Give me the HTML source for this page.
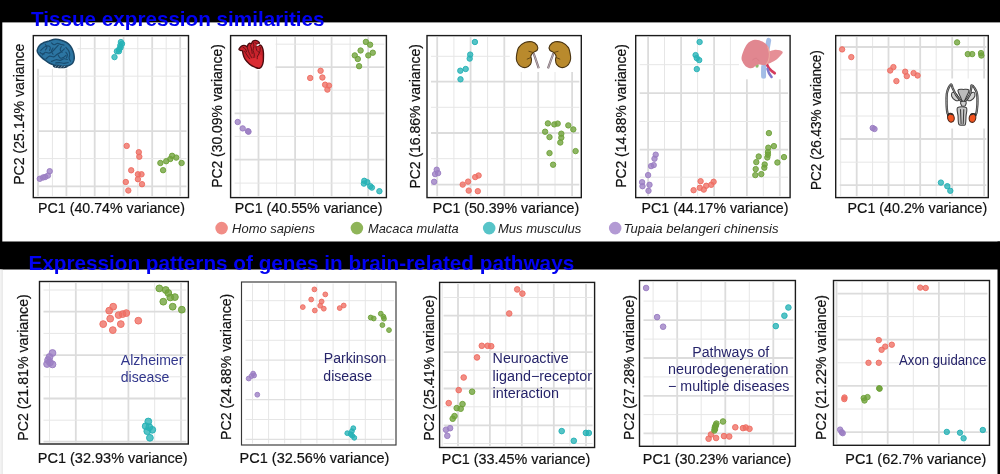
<!DOCTYPE html>
<html lang="en"><head><meta charset="utf-8"><title>Tissue expression similarities</title>
<style>
html,body{margin:0;padding:0;background:#fff;}
body{width:1000px;height:474px;overflow:hidden;position:relative;font-family:"Liberation Sans",Arial,sans-serif;}
svg{position:absolute;left:0;top:0;display:block;}
text{font-family:"Liberation Sans",Arial,sans-serif;}
.ax{font-size:15.2px;fill:#111;stroke:#111;stroke-width:0.2;}
.ttl{font-size:21px;font-weight:bold;fill:#0202f2;}
.lg{font-size:13px;font-style:italic;fill:#222;}
.an{font-size:14px;}
.gM{stroke:#dcdcdc;stroke-width:1.8;}
.gm{stroke:#e6e6e6;stroke-width:1;}
.gt{stroke:#e0e0e0;stroke-width:1.2;}
.fr{fill:none;stroke:#1c1c1c;stroke-width:1.4;}
</style></head><body>
<svg width="1000" height="474" viewBox="0 0 1000 474">
<rect x="0" y="0" width="1000" height="474" fill="#fff"/>
<rect x="0" y="0" width="1000" height="22.4" fill="#000"/>
<rect x="0" y="0" width="2.3" height="242" fill="#000"/>
<rect x="0" y="241.5" width="1000" height="28" fill="#000"/>
<rect x="997.5" y="241.5" width="2.5" height="232.5" fill="#000"/>
<rect x="0" y="269.5" width="1.6" height="204.5" fill="#f3f3f3"/>
<rect x="1.6" y="269.5" width="1" height="204.5" fill="#dedede"/>

<g>
<rect x="33.3" y="35.6" width="155.2" height="162" fill="#fff"/>
<line class="gM" x1="38" y1="37.1" x2="38" y2="196.1"/>
<line class="gm" x1="52.4" y1="37.1" x2="52.4" y2="196.1"/>
<line class="gM" x1="66.4" y1="37.1" x2="66.4" y2="196.1"/>
<line class="gm" x1="80.4" y1="37.1" x2="80.4" y2="196.1"/>
<line class="gM" x1="94.7" y1="37.1" x2="94.7" y2="196.1"/>
<line class="gm" x1="109.2" y1="37.1" x2="109.2" y2="196.1"/>
<line class="gM" x1="123.6" y1="37.1" x2="123.6" y2="196.1"/>
<line class="gm" x1="137.8" y1="37.1" x2="137.8" y2="196.1"/>
<line class="gM" x1="152.2" y1="37.1" x2="152.2" y2="196.1"/>
<line class="gm" x1="166.2" y1="37.1" x2="166.2" y2="196.1"/>
<line class="gM" x1="180.2" y1="37.1" x2="180.2" y2="196.1"/>
<line class="gm" x1="37.3" y1="48.7" x2="186.5" y2="48.7"/>
<line class="gm" x1="37.3" y1="76.2" x2="186.5" y2="76.2"/>
<line class="gm" x1="37.3" y1="103.7" x2="186.5" y2="103.7"/>
<line class="gM" x1="37.3" y1="131.1" x2="186.5" y2="131.1"/>
<line class="gm" x1="37.3" y1="158.6" x2="186.5" y2="158.6"/>
<line class="gM" x1="37.3" y1="186.4" x2="186.5" y2="186.4"/>
<rect x="34" y="36.3" width="43.5" height="32.5" fill="#fff"/>
<g><path d="M53 64.7C53.5 64.2 55.1 64.3 56.8 64.2C58.4 64.2 61.1 64.4 62.9 64.5C64.6 64.7 66.7 64.7 67.4 65.2C68.1 65.6 67.9 66.9 67.1 67.4C66.3 67.9 64.6 68.1 62.9 68.2C61.1 68.3 58.3 68.2 56.8 68C55.2 67.9 54.2 67.7 53.6 67.1C53 66.6 52.5 65.2 53 64.7Z" fill="#1b3c55"/><path d="M37.2 50.4C37.4 49 38.6 46.6 39.7 45.3C40.8 43.9 42.3 43.3 43.9 42.5C45.5 41.8 47.3 41.4 49.2 40.9C51.1 40.3 53.2 39.4 55.3 39.3C57.3 39.2 59.4 39.6 61.3 40.2C63.2 40.7 65.1 41.6 66.6 42.5C68.2 43.5 69.4 44.6 70.4 46C71.5 47.5 72.5 49.4 73.1 51.2C73.7 52.9 74.1 55 74.2 56.5C74.4 58 74.2 59.2 73.9 60.4C73.5 61.7 72.9 62.9 72 63.8C71 64.7 69.6 65.4 68.2 65.8C66.8 66.2 65.1 66.2 63.6 66.2C62.1 66.2 60.7 65.8 59.1 65.6C57.4 65.4 55.4 65.3 53.7 64.9C52.1 64.4 50.6 63.8 49.2 63C47.8 62.3 46.7 61.4 45.4 60.4C44.1 59.5 42.7 58.5 41.6 57.4C40.5 56.3 39.3 55.2 38.6 54.1C37.8 52.9 37 51.9 37.2 50.4Z" fill="#2C75A2" stroke="#1A4868" stroke-width="1.5" stroke-linejoin="round"/><g fill="none" stroke="#194C6F" stroke-width="1.15" stroke-linecap="round"><path d="M40.8 50.4C41.3 49.9 42.7 48.1 43.9 47.4C45 46.6 46.6 45.9 47.7 45.9C48.7 45.9 50 46.6 50.3 47.4C50.6 48.1 49.7 49.9 49.6 50.4"/><path d="M42.4 55C42.9 54.5 44.3 52.6 45.4 52.3C46.5 52 48 53.3 49.2 53.1C50.4 52.9 51.5 52 52.6 51.2C53.7 50.4 54.7 49.2 55.6 48.1C56.6 47.1 57.9 45.6 58.3 45.1"/><path d="M46.1 58.8C46.7 58.3 48.3 56.4 49.6 56.1C50.8 55.8 52.5 57.1 53.7 56.9C54.9 56.6 55.6 55.4 56.8 54.6C57.9 53.8 59.3 53.3 60.6 52.3C61.8 51.4 63.7 49.5 64.4 48.9"/><path d="M51.5 42.8C51.9 43.2 53.1 44.7 54.1 44.7C55.1 44.8 56.5 43.3 57.5 43.2C58.6 43.2 59.5 44 60.6 44.4C61.7 44.7 63.4 45 64 45.1"/><path d="M65.9 47.4C66.3 47.9 67.9 49.3 68.5 50.4C69.2 51.6 69.6 53 69.7 54.2C69.8 55.5 69 56.9 69.1 58C69.2 59.2 70.2 60.6 70.4 61.1"/><path d="M51.5 61.4C52.2 61.1 54.6 59.9 56 59.7C57.5 59.5 58.9 60.6 60.2 60.4C61.5 60.3 62.8 58.9 64 58.8C65.2 58.6 66.8 59.4 67.4 59.5"/><path d="M45.4 44.4C45.6 44.9 46.9 46.4 46.9 47.4C46.9 48.3 45.6 49.6 45.4 50"/><path d="M58.3 55.4C58.6 55.8 59.4 57.6 60.2 58C61 58.4 62.3 58.1 63.2 57.6C64.2 57.2 65.4 55.7 65.9 55.4"/><path d="M53 48.1C52.7 48.7 51.5 50.2 51.5 51.2C51.5 52.2 52.7 53.7 53 54.2"/><path d="M61.3 46.6C61.1 47.1 60.1 48.7 60.2 49.7C60.3 50.6 61.8 51.9 62.1 52.3"/><path d="M55.6 63C56.3 62.9 58.4 62.5 59.8 62.6C61.2 62.6 62.6 63.3 64 63.3C65.4 63.3 67.5 62.7 68.2 62.6"/><path d="M40.1 52.3C40.3 52.6 40.9 53.6 41.6 53.8C42.3 54.1 43.8 53.8 44.3 53.8"/><path d="M65.9 52.3C66.1 52.7 67.3 53.7 67.4 54.6C67.5 55.5 66.8 57.1 66.6 57.6"/></g><g fill="none" stroke="#cfdbe4" stroke-width="0.55"><path d="M54.6 67.2l1.8 -1.4M57.4 67.6l2 -1.6M60.4 67.6l2 -1.5M63.4 67.3l1.8 -1.3"/></g></g>
<g fill="#EE6E63" fill-opacity="0.78" stroke="#EE6E63" stroke-opacity="0.95" stroke-width="1">
<circle cx="126.7" cy="145.9" r="2.7"/>
<circle cx="138.8" cy="152.2" r="2.7"/>
<circle cx="139.3" cy="156.7" r="2.7"/>
<circle cx="131.2" cy="170.3" r="2.7"/>
<circle cx="137.9" cy="174.3" r="2.7"/>
<circle cx="141.5" cy="174.3" r="2.7"/>
<circle cx="137.9" cy="179.2" r="2.7"/>
<circle cx="125.8" cy="182" r="2.7"/>
<circle cx="142" cy="184.2" r="2.7"/>
<circle cx="128.3" cy="190.5" r="2.7"/>
</g>
<g fill="#6FA23A" fill-opacity="0.78" stroke="#6FA23A" stroke-opacity="0.95" stroke-width="1">
<circle cx="160.4" cy="163" r="2.7"/>
<circle cx="166.2" cy="161.2" r="2.7"/>
<circle cx="170.3" cy="159" r="2.7"/>
<circle cx="172.1" cy="155.8" r="2.7"/>
<circle cx="176.2" cy="157.6" r="2.7"/>
<circle cx="181.6" cy="163" r="2.7"/>
<circle cx="163.1" cy="170.2" r="2.7"/>
</g>
<g fill="#9B7EC3" fill-opacity="0.78" stroke="#9B7EC3" stroke-opacity="0.95" stroke-width="1">
<circle cx="39.8" cy="178.8" r="2.7"/>
<circle cx="43" cy="177.5" r="2.7"/>
<circle cx="45.2" cy="177" r="2.7"/>
<circle cx="47.9" cy="175.6" r="2.7"/>
<circle cx="49.7" cy="171.2" r="2.7"/>
</g>
<g fill="#27B2B6" fill-opacity="0.78" stroke="#27B2B6" stroke-opacity="0.95" stroke-width="1">
<circle cx="120.9" cy="42.1" r="2.7"/>
<circle cx="122" cy="43.8" r="2.7"/>
<circle cx="120.3" cy="45.5" r="2.7"/>
<circle cx="120.6" cy="47.5" r="2.7"/>
<circle cx="119.3" cy="49.2" r="2.7"/>
<circle cx="116.9" cy="51.3" r="2.7"/>
<circle cx="118.9" cy="51.3" r="2.7"/>
<circle cx="114.5" cy="57.1" r="2.7"/>
</g>
<rect class="fr" x="33.3" y="35.6" width="155.2" height="162"/>
</g>
<g>
<rect x="230.6" y="35.6" width="155.8" height="162" fill="#fff"/>
<line class="gm" x1="240.1" y1="37.1" x2="240.1" y2="196.1"/>
<line class="gM" x1="258.5" y1="37.1" x2="258.5" y2="196.1"/>
<line class="gm" x1="276.6" y1="37.1" x2="276.6" y2="196.1"/>
<line class="gM" x1="295.1" y1="37.1" x2="295.1" y2="196.1"/>
<line class="gm" x1="313.4" y1="37.1" x2="313.4" y2="196.1"/>
<line class="gM" x1="331.6" y1="37.1" x2="331.6" y2="196.1"/>
<line class="gm" x1="350.1" y1="37.1" x2="350.1" y2="196.1"/>
<line class="gM" x1="368.2" y1="37.1" x2="368.2" y2="196.1"/>
<line class="gm" x1="234.6" y1="44.2" x2="384.4" y2="44.2"/>
<line class="gM" x1="234.6" y1="67.2" x2="384.4" y2="67.2"/>
<line class="gm" x1="234.6" y1="90.2" x2="384.4" y2="90.2"/>
<line class="gM" x1="234.6" y1="113.3" x2="384.4" y2="113.3"/>
<line class="gm" x1="234.6" y1="136.4" x2="384.4" y2="136.4"/>
<line class="gM" x1="234.6" y1="159.7" x2="384.4" y2="159.7"/>
<line class="gm" x1="234.6" y1="183.1" x2="384.4" y2="183.1"/>
<rect x="231.3" y="36.3" width="44.3" height="34" fill="#fff"/>
<g><path d="M238.9 49.5C238.9 49 239.9 47.6 240.5 47C241 46.4 241.8 45.9 242.5 45.6C243.2 45.4 244.7 45.4 245.4 45.6C246.1 45.7 246.6 46.9 247.1 46.8C247.5 46.6 247.7 45 248.1 44.5C248.5 44 249.3 43.3 249.8 43.2C250.3 43.1 250.9 44.2 251.3 43.9C251.7 43.6 252.1 41.8 252.7 41.3C253.3 40.8 254.5 40.4 255.3 40.4C256.1 40.4 257.4 40.8 258 41.2C258.6 41.6 259.5 42.5 259.5 43C259.5 43.5 258.6 44 258.1 44.4C257.7 44.7 256.4 45.3 256.5 45.6C256.5 45.8 257.9 46 258.4 45.9C259 45.8 259.8 44.9 260.3 45C260.8 45 261.4 45.7 261.8 46.3C262.2 46.9 262.6 48 262.9 49.1C263.1 50.2 263.4 51.8 263.5 53.6C263.5 55.4 263.5 59.2 263.3 61.1C263.1 62.9 262.5 64.9 261.9 66C261.4 67.1 260.4 68 259.4 68.3C258.5 68.5 257.1 68.1 255.6 67.5C254.2 66.9 251.2 65.5 249.6 64.2C248 63 246 60.7 245 59.2C244 57.6 243.3 55.1 243 53.8C242.6 52.6 242.8 51.4 242.5 50.9C242.2 50.4 241.4 50.8 240.8 50.6C240.3 50.4 239 50.1 238.9 49.5Z" fill="#C8232C" stroke="#4A0C0F" stroke-width="1.35" stroke-linejoin="round"/><path d="M246.1 58C246.3 57.3 249.7 58.9 251.5 58.8C253.2 58.7 255.1 57.9 256.8 57.3C258.4 56.6 260.4 54.3 261.3 55C262.2 55.6 262.3 59.3 262.2 61.1C262.2 62.8 261.5 64.6 261 65.6C260.4 66.6 259.9 67 259.1 67.1C258.2 67.3 257.1 67 255.6 66.4C254.2 65.7 251.9 64.7 250.3 63.3C248.7 61.9 246 58.8 246.1 58Z" fill="#DA2C33"/><g fill="none" stroke="#6A1216" stroke-width="1" stroke-linecap="round"><path d="M243.1 47.4C243.5 47.6 244.8 48.1 245.4 48.9C246 49.7 246.3 51.4 246.5 51.9"/><path d="M247.3 47.4C247.5 48 247.9 49.9 248.4 51.2C248.9 52.5 249.8 54.3 250.3 55.4C250.9 56.4 251.6 57.3 251.8 57.6"/><path d="M250.3 45.1C250.5 45.7 251.1 47.5 251.5 48.9C251.8 50.3 252.1 52.7 252.2 53.5"/><path d="M253.4 42.8C253.5 43.5 254 45.4 253.9 46.6C253.8 47.9 252.9 49.2 253 50.4C253.1 51.7 254.2 53 254.3 54.2C254.5 55.4 254 57.1 253.9 57.6"/><path d="M256 46.6C256.1 47.3 256.3 49.5 256.8 50.4C257.3 51.4 258.7 52 259.1 52.3"/><path d="M260.2 47.4C260.1 48.1 260.2 50.5 259.8 51.9C259.4 53.4 258.1 54.8 257.7 55.9C257.2 57 257.2 58.3 257.2 58.8"/><path d="M244.6 51.2C245 51.8 246.1 53.7 246.9 55C247.7 56.2 249.1 58.1 249.6 58.8"/><path d="M254.9 42.5C255.2 42.6 256.2 43.5 256.8 43.6C257.3 43.7 257.9 43 258.1 42.8"/></g><path d="M256.2 45.3C256.2 45 257.2 44.4 257.7 44.2C258.2 44 259.2 43.7 259.4 43.9C259.6 44.1 259.2 44.9 258.9 45.3C258.6 45.6 257.8 45.9 257.4 45.9C256.9 45.9 256.1 45.5 256.2 45.3Z" fill="#fff"/></g>
<g fill="#6FA23A" fill-opacity="0.78" stroke="#6FA23A" stroke-opacity="0.95" stroke-width="1">
<circle cx="365.9" cy="41.9" r="2.7"/>
<circle cx="370.1" cy="44.7" r="2.7"/>
<circle cx="360.6" cy="50.5" r="2.7"/>
<circle cx="372.8" cy="52.7" r="2.7"/>
<circle cx="368.3" cy="55.4" r="2.7"/>
<circle cx="354.8" cy="55.4" r="2.7"/>
<circle cx="357.8" cy="59" r="2.7"/>
<circle cx="359.1" cy="66.2" r="2.7"/>
</g>
<g fill="#EE6E63" fill-opacity="0.78" stroke="#EE6E63" stroke-opacity="0.95" stroke-width="1">
<circle cx="320.6" cy="70.8" r="2.7"/>
<circle cx="310.2" cy="78" r="2.7"/>
<circle cx="322.4" cy="77.5" r="2.7"/>
<circle cx="325.1" cy="84.7" r="2.7"/>
<circle cx="329" cy="85.6" r="2.7"/>
<circle cx="327.4" cy="89.6" r="2.7"/>
</g>
<g fill="#9B7EC3" fill-opacity="0.78" stroke="#9B7EC3" stroke-opacity="0.95" stroke-width="1">
<circle cx="237.7" cy="122" r="2.7"/>
<circle cx="242.7" cy="128.4" r="2.7"/>
<circle cx="248.5" cy="131.7" r="2.7"/>
<circle cx="248" cy="131.2" r="2.7"/>
</g>
<g fill="#27B2B6" fill-opacity="0.78" stroke="#27B2B6" stroke-opacity="0.95" stroke-width="1">
<circle cx="364.3" cy="180.8" r="2.7"/>
<circle cx="367.3" cy="182.2" r="2.7"/>
<circle cx="363.9" cy="183.6" r="2.7"/>
<circle cx="370.3" cy="186.2" r="2.7"/>
<circle cx="371.9" cy="187.6" r="2.7"/>
<circle cx="379.4" cy="191.2" r="2.7"/>
</g>
<rect class="fr" x="230.6" y="35.6" width="155.8" height="162"/>
</g>
<g>
<rect x="427" y="35.6" width="154.3" height="162" fill="#fff"/>
<line class="gM" x1="437.2" y1="37.1" x2="437.2" y2="196.1"/>
<line class="gm" x1="453.9" y1="37.1" x2="453.9" y2="196.1"/>
<line class="gM" x1="470.6" y1="37.1" x2="470.6" y2="196.1"/>
<line class="gm" x1="487.6" y1="37.1" x2="487.6" y2="196.1"/>
<line class="gM" x1="504.3" y1="37.1" x2="504.3" y2="196.1"/>
<line class="gm" x1="521.3" y1="37.1" x2="521.3" y2="196.1"/>
<line class="gM" x1="538.2" y1="37.1" x2="538.2" y2="196.1"/>
<line class="gm" x1="555" y1="37.1" x2="555" y2="196.1"/>
<line class="gM" x1="572.1" y1="37.1" x2="572.1" y2="196.1"/>
<line class="gm" x1="431" y1="56.3" x2="579.3" y2="56.3"/>
<line class="gM" x1="431" y1="81.7" x2="579.3" y2="81.7"/>
<line class="gm" x1="431" y1="107.3" x2="579.3" y2="107.3"/>
<line class="gM" x1="431" y1="133" x2="579.3" y2="133"/>
<line class="gm" x1="431" y1="158.7" x2="579.3" y2="158.7"/>
<line class="gM" x1="431" y1="184.6" x2="579.3" y2="184.6"/>
<rect x="509.8" y="36.3" width="70.8" height="35.7" fill="#fff"/>
<g><g fill="none" stroke="#7b6b72" stroke-width="2.2" stroke-linecap="butt"><path d="M533.5 53.2C533.9 54.4 535.1 57.4 535.9 59.9C536.8 62.5 538.3 66.9 538.7 68.3"/><path d="M553.5 53.2C553.1 54.4 551.9 57.4 551 59.9C550.1 62.5 548.5 66.9 548 68.3"/></g><g fill="none" stroke="#d9cfd3" stroke-width="0.7"><path d="M533.5 53.2C533.9 54.4 535.1 57.4 535.9 59.9C536.8 62.5 538.3 66.9 538.7 68.3"/><path d="M553.5 53.2C553.1 54.4 551.9 57.4 551 59.9C550.1 62.5 548.5 66.9 548 68.3"/></g><g fill="#B98A2D" stroke="#4A3410" stroke-width="1.1" stroke-linejoin="round"><path d="M516.4 56.6C516.7 54.3 517.2 50 518.6 47.6C520 45.3 522.5 43.6 524.8 42.6C527 41.7 530 41.4 532 41.8C534.1 42.3 536.2 44.1 537.1 45.4C537.9 46.8 537.9 48.7 537.3 49.9C536.6 51.1 534.2 51.7 533.2 52.7C532.1 53.7 531.2 54.8 530.9 56C530.6 57.2 531.6 58.5 531.5 59.9C531.4 61.3 531.3 63.1 530.4 64.4C529.4 65.7 527.6 67.3 525.9 67.5C524.2 67.8 521.8 67.1 520.3 66.1C518.8 65.1 517.6 63.2 516.9 61.6C516.3 60 516.1 58.9 516.4 56.6Z"/><path d="M570.6 56.6C570.3 54.3 569.8 50 568.4 47.6C567 45.3 564.4 43.6 562.2 42.6C560 41.7 557 41.4 554.9 41.8C552.9 42.3 550.8 44.1 549.9 45.4C549 46.8 549 48.7 549.7 49.9C550.3 51.1 552.8 51.7 553.8 52.7C554.9 53.7 555.8 54.8 556.1 56C556.3 57.2 555.4 58.5 555.5 59.9C555.6 61.3 555.7 63.1 556.6 64.4C557.6 65.7 559.4 67.3 561.1 67.5C562.8 67.8 565.2 67.1 566.7 66.1C568.2 65.1 569.4 63.2 570 61.6C570.7 60 570.9 58.9 570.6 56.6Z"/></g><g fill="none" stroke="#5a3f12" stroke-width="0.9" stroke-linecap="round"><path d="M533.4 52.6l-4.5 -1.3M530.8 57.5l-3.6 1.6M553.6 52.6l4.5 -1.3M556.2 57.5l3.6 1.6"/></g></g>
<g fill="#27B2B6" fill-opacity="0.78" stroke="#27B2B6" stroke-opacity="0.95" stroke-width="1">
<circle cx="474.9" cy="42" r="2.7"/>
<circle cx="470.2" cy="54.6" r="2.7"/>
<circle cx="469.7" cy="58.6" r="2.7"/>
<circle cx="465.7" cy="69" r="2.7"/>
<circle cx="460.3" cy="70.7" r="2.7"/>
<circle cx="460.5" cy="79.3" r="2.7"/>
</g>
<g fill="#6FA23A" fill-opacity="0.78" stroke="#6FA23A" stroke-opacity="0.95" stroke-width="1">
<circle cx="547.9" cy="123.4" r="2.7"/>
<circle cx="554.3" cy="124.4" r="2.7"/>
<circle cx="557.7" cy="123.6" r="2.7"/>
<circle cx="568.3" cy="125.4" r="2.7"/>
<circle cx="573.3" cy="129.4" r="2.7"/>
<circle cx="545.1" cy="131.7" r="2.7"/>
<circle cx="561.3" cy="133.7" r="2.7"/>
<circle cx="549.5" cy="137.1" r="2.7"/>
<circle cx="561.3" cy="137.7" r="2.7"/>
<circle cx="560.3" cy="142.5" r="2.7"/>
<circle cx="549.5" cy="153.1" r="2.7"/>
<circle cx="575.6" cy="151.1" r="2.7"/>
<circle cx="553.1" cy="164.7" r="2.7"/>
</g>
<g fill="#9B7EC3" fill-opacity="0.78" stroke="#9B7EC3" stroke-opacity="0.95" stroke-width="1">
<circle cx="436.7" cy="169.7" r="2.7"/>
<circle cx="435.1" cy="174.1" r="2.7"/>
<circle cx="438.1" cy="173.1" r="2.7"/>
<circle cx="434.1" cy="181.8" r="2.7"/>
</g>
<g fill="#EE6E63" fill-opacity="0.78" stroke="#EE6E63" stroke-opacity="0.95" stroke-width="1">
<circle cx="478.6" cy="175.5" r="2.7"/>
<circle cx="475.2" cy="177.1" r="2.7"/>
<circle cx="468.1" cy="181.6" r="2.7"/>
<circle cx="462.7" cy="184.6" r="2.7"/>
<circle cx="468.7" cy="190.6" r="2.7"/>
<circle cx="477.8" cy="191.2" r="2.7"/>
</g>
<rect class="fr" x="427" y="35.6" width="154.3" height="162"/>
</g>
<g>
<rect x="635.7" y="35.6" width="154.4" height="162" fill="#fff"/>
<line class="gM" x1="648.1" y1="37.1" x2="648.1" y2="196.1"/>
<line class="gm" x1="664.5" y1="37.1" x2="664.5" y2="196.1"/>
<line class="gM" x1="681.1" y1="37.1" x2="681.1" y2="196.1"/>
<line class="gm" x1="697.6" y1="37.1" x2="697.6" y2="196.1"/>
<line class="gM" x1="714.1" y1="37.1" x2="714.1" y2="196.1"/>
<line class="gm" x1="730.4" y1="37.1" x2="730.4" y2="196.1"/>
<line class="gM" x1="746.9" y1="37.1" x2="746.9" y2="196.1"/>
<line class="gm" x1="763.3" y1="37.1" x2="763.3" y2="196.1"/>
<line class="gM" x1="779.8" y1="37.1" x2="779.8" y2="196.1"/>
<line class="gm" x1="639.7" y1="64.7" x2="788.1" y2="64.7"/>
<line class="gM" x1="639.7" y1="93.1" x2="788.1" y2="93.1"/>
<line class="gm" x1="639.7" y1="121.5" x2="788.1" y2="121.5"/>
<line class="gM" x1="639.7" y1="149.6" x2="788.1" y2="149.6"/>
<line class="gm" x1="639.7" y1="177.2" x2="788.1" y2="177.2"/>
<rect x="739" y="36.3" width="50.4" height="43" fill="#fff"/>
<g><path d="M768.7 40.4C768.5 41.4 768.1 43.8 767.6 46.5C767.1 49.2 766.2 53.4 765.6 56.6C764.9 59.8 764.1 62.3 763.8 65.6C763.4 68.8 763.6 74.4 763.6 76.2" fill="none" stroke="#A3BDE6" stroke-width="5" stroke-linecap="round"/><path d="M766 62.2C766.4 63.1 767.6 66.3 768.6 67.8C769.6 69.3 770.9 70.3 771.9 71.1C773 72 774.3 72.8 774.7 73.2" fill="none" stroke="#D53B5D" stroke-width="2.7" stroke-linecap="round"/><path d="M767.5 68.9C767.8 69.7 768.5 72 769.1 73.4C769.8 74.7 771.2 76.4 771.6 77" fill="none" stroke="#7F76CA" stroke-width="2.5" stroke-linecap="round"/><ellipse cx="757" cy="65.4" rx="1.7" ry="2.4" fill="#8FBA6E"/><path d="M765.6 54.4C766.9 52.1 771.3 50.3 774.2 49.9C777 49.4 781.7 50.5 782.6 51.7C783.4 52.8 780.9 55.2 779.4 56.8C778 58.4 776.1 60.2 773.8 61.3C771.6 62.5 767.4 64.9 766 63.8C764.6 62.6 764.2 56.7 765.6 54.4Z" fill="#E68F96"/><path d="M741.7 56.6C742.4 53.6 744.6 47.3 746.8 44.5C748.9 41.7 752 40.3 754.6 39.8C757.2 39.3 760.2 40.5 762.4 41.6C764.6 42.7 766.6 44.4 767.8 46.3C769 48.3 769.6 50.9 769.8 53.3C770 55.6 769.6 58.5 768.9 60.5C768.2 62.5 767.5 64.4 765.6 65.1C763.7 65.8 759.6 64.2 757.4 64.7C755.2 65.1 754.1 67.6 752.4 68C750.6 68.4 748.4 67.8 746.8 66.9C745.2 66 743.7 64.1 742.9 62.4C742 60.7 741.1 59.6 741.7 56.6Z" fill="#E18790"/><path d="M767.6 46.3C767.9 47.6 769.2 51.4 769.4 53.8C769.5 56.2 769 58.7 768.5 60.5C767.9 62.3 766.4 64 766 64.7" fill="none" stroke="#EBA89E" stroke-width="1.1"/><path d="M752.4 60C753 59.7 755.1 58.1 756.3 58.3C757.4 58.5 758.8 60.8 759.3 61.3" fill="none" stroke="#d67c86" stroke-width="0.8"/></g>
<g fill="#27B2B6" fill-opacity="0.78" stroke="#27B2B6" stroke-opacity="0.95" stroke-width="1">
<circle cx="699.6" cy="42" r="2.7"/>
<circle cx="695.6" cy="55.1" r="2.7"/>
<circle cx="696.8" cy="58.1" r="2.7"/>
<circle cx="699.2" cy="60.1" r="2.7"/>
<circle cx="696.8" cy="69.1" r="2.7"/>
</g>
<g fill="#9B7EC3" fill-opacity="0.78" stroke="#9B7EC3" stroke-opacity="0.95" stroke-width="1">
<circle cx="655.7" cy="154.7" r="2.7"/>
<circle cx="654.5" cy="158.7" r="2.7"/>
<circle cx="653.7" cy="165.1" r="2.7"/>
<circle cx="651.1" cy="166.1" r="2.7"/>
<circle cx="648.1" cy="175.1" r="2.7"/>
<circle cx="642.1" cy="182.2" r="2.7"/>
<circle cx="642.5" cy="186.2" r="2.7"/>
<circle cx="649.5" cy="184.8" r="2.7"/>
<circle cx="648.5" cy="190.8" r="2.7"/>
</g>
<g fill="#EE6E63" fill-opacity="0.78" stroke="#EE6E63" stroke-opacity="0.95" stroke-width="1">
<circle cx="700.6" cy="181.2" r="2.7"/>
<circle cx="713.6" cy="181.8" r="2.7"/>
<circle cx="711.2" cy="184.8" r="2.7"/>
<circle cx="706.2" cy="185.8" r="2.7"/>
<circle cx="699.8" cy="187.8" r="2.7"/>
<circle cx="703.8" cy="189.6" r="2.7"/>
<circle cx="693.6" cy="190.2" r="2.7"/>
</g>
<g fill="#6FA23A" fill-opacity="0.78" stroke="#6FA23A" stroke-opacity="0.95" stroke-width="1">
<circle cx="768.9" cy="133.1" r="2.7"/>
<circle cx="773.9" cy="146.1" r="2.7"/>
<circle cx="768.3" cy="147.7" r="2.7"/>
<circle cx="767.9" cy="152.1" r="2.7"/>
<circle cx="767.3" cy="157.5" r="2.7"/>
<circle cx="758.7" cy="156.5" r="2.7"/>
<circle cx="784" cy="157.1" r="2.7"/>
<circle cx="756.3" cy="162.1" r="2.7"/>
<circle cx="777.4" cy="162.5" r="2.7"/>
<circle cx="764.7" cy="164.5" r="2.7"/>
<circle cx="764.3" cy="167.7" r="2.7"/>
<circle cx="755.7" cy="169.1" r="2.7"/>
<circle cx="761.3" cy="174.1" r="2.7"/>
<circle cx="755.3" cy="175.1" r="2.7"/>
<circle cx="767.9" cy="154.7" r="2.7"/>
</g>
<rect class="fr" x="635.7" y="35.6" width="154.4" height="162"/>
</g>
<g>
<rect x="835.7" y="35.6" width="152.6" height="162" fill="#fff"/>
<line class="gm" x1="840.7" y1="37.1" x2="840.7" y2="196.1"/>
<line class="gM" x1="856.7" y1="37.1" x2="856.7" y2="196.1"/>
<line class="gm" x1="872.6" y1="37.1" x2="872.6" y2="196.1"/>
<line class="gM" x1="888.5" y1="37.1" x2="888.5" y2="196.1"/>
<line class="gm" x1="904.3" y1="37.1" x2="904.3" y2="196.1"/>
<line class="gM" x1="920.2" y1="37.1" x2="920.2" y2="196.1"/>
<line class="gm" x1="936.2" y1="37.1" x2="936.2" y2="196.1"/>
<line class="gM" x1="952.2" y1="37.1" x2="952.2" y2="196.1"/>
<line class="gm" x1="968.2" y1="37.1" x2="968.2" y2="196.1"/>
<line class="gM" x1="984.1" y1="37.1" x2="984.1" y2="196.1"/>
<line class="gM" x1="839.7" y1="47" x2="986.3" y2="47"/>
<line class="gm" x1="839.7" y1="69.9" x2="986.3" y2="69.9"/>
<line class="gM" x1="839.7" y1="92.9" x2="986.3" y2="92.9"/>
<line class="gm" x1="839.7" y1="116" x2="986.3" y2="116"/>
<line class="gM" x1="839.7" y1="139" x2="986.3" y2="139"/>
<line class="gm" x1="839.7" y1="162.2" x2="986.3" y2="162.2"/>
<line class="gM" x1="839.7" y1="185.2" x2="986.3" y2="185.2"/>
<rect x="940" y="78.5" width="47.6" height="50" fill="#fff"/>
<g fill="none" stroke="#3f3f3f" stroke-width="1.05" stroke-linecap="round" stroke-linejoin="round"><path d="M957.6 107.7C959 106.4 964.9 106.4 966.3 107.7C967.7 109 966.3 112.9 966.1 115.6C965.9 118.4 965.9 122.7 965.4 124.3C964.9 125.9 964 125.1 962.9 125.1C961.7 125.1 959.6 125.9 958.8 124.3C958 122.7 958.2 118.4 958 115.6C957.8 112.9 956.2 109 957.6 107.7Z" fill="#c6c6c6"/><path d="M960.5 109.6C960.6 110.8 960.7 114.4 960.8 116.8C960.9 119.1 961.1 122.6 961.1 123.7"/><path d="M963.8 109.6C963.7 110.8 963.6 114.4 963.5 116.8C963.5 119.1 963.3 122.6 963.2 123.7"/><path d="M958 90.1C958.5 88.8 961.6 89.4 963.4 89.4C965.3 89.4 968.4 88.8 968.9 90.1C969.4 91.4 967.2 95 966.3 97C965.4 99.1 964.4 102.2 963.4 102.2C962.5 102.2 961.4 99.1 960.5 97C959.6 95 957.5 91.4 958 90.1Z" fill="#bcbcbc"/><path d="M952.4 92.4C953.2 92 955.4 92.9 956.5 94.1C957.6 95.4 959.2 99.2 959 100.2C958.8 101.2 956.5 100.8 955.3 100.2C954.1 99.6 952.3 97.8 951.8 96.5C951.3 95.2 951.6 92.8 952.4 92.4Z" fill="#d2d2d2"/><path d="M974.1 92.4C973.3 92 971.1 92.9 970 94.1C969 95.4 967.4 99.2 967.6 100.2C967.8 101.2 970 100.8 971.2 100.2C972.4 99.6 974.2 97.8 974.7 96.5C975.2 95.2 974.9 92.8 974.1 92.4Z" fill="#d2d2d2"/><path d="M962.6 102.6C961.5 101.3 957.8 97.4 956.1 95C954.5 92.5 953.5 89.8 952.6 88C951.8 86.2 951.9 84.4 951.2 84.3C950.6 84.2 949.7 85.8 948.9 87.3C948.2 88.8 947.2 90.8 946.8 93.6C946.5 96.4 946.5 100.7 946.6 104C946.7 107.3 947 111.3 947.5 113.3C948 115.3 949.3 115.4 949.6 115.8" stroke="#333" stroke-width="2.3"/><path d="M964.2 102.6C965.1 101.3 968.4 97.4 969.6 95C970.7 92.5 970.9 89.6 971.2 88C971.6 86.4 971.1 85.4 971.7 85.4C972.2 85.4 973.6 86.6 974.5 88C975.3 89.4 976.5 90.9 977 93.6C977.5 96.2 977.5 100.7 977.4 104C977.2 107.3 976.9 111.3 976.3 113.3C975.8 115.3 974.4 115.4 974 115.8" stroke="#333" stroke-width="2.3"/><path d="M962.6 102.6C961.5 101.3 957.8 97.4 956.1 95C954.5 92.5 953.5 89.8 952.6 88C951.8 86.2 951.9 84.4 951.2 84.3C950.6 84.2 949.7 85.8 948.9 87.3C948.2 88.8 947.2 90.8 946.8 93.6C946.5 96.4 946.5 100.7 946.6 104C946.7 107.3 947 111.3 947.5 113.3C948 115.3 949.3 115.4 949.6 115.8" stroke="#dadada" stroke-width="0.55"/><path d="M964.2 102.6C965.1 101.3 968.4 97.4 969.6 95C970.7 92.5 970.9 89.6 971.2 88C971.6 86.4 971.1 85.4 971.7 85.4C972.2 85.4 973.6 86.6 974.5 88C975.3 89.4 976.5 90.9 977 93.6C977.5 96.2 977.5 100.7 977.4 104C977.2 107.3 976.9 111.3 976.3 113.3C975.8 115.3 974.4 115.4 974 115.8" stroke="#dadada" stroke-width="0.55"/><path d="M960.8 101.9C961.1 101.2 962.5 101.2 963.4 101.2C964.3 101.2 965.8 101.2 966.1 101.9C966.4 102.6 965.8 104.7 965.4 105.4C965 106.1 964.1 106.3 963.4 106.3C962.8 106.3 961.9 106.1 961.5 105.4C961 104.7 960.4 102.6 960.8 101.9Z" fill="#cdcdcd"/><ellipse cx="950.9" cy="117.7" rx="3.3" ry="4.5" fill="#F2531F" stroke="#4f2617" transform="rotate(-12 950.9 117.7)"/><ellipse cx="972.5" cy="117.9" rx="3.3" ry="4.5" fill="#F2531F" stroke="#4f2617" transform="rotate(12 972.5 117.9)"/><path d="M947.8 115.4C948.1 115.1 948.8 113.9 949.6 113.8C950.4 113.6 952.1 114.3 952.6 114.5" stroke="#2c2c2c" stroke-width="1.5"/><path d="M970.7 114.7C971.2 114.5 972.9 113.6 973.8 113.8C974.6 113.9 975.5 115.1 975.8 115.4" stroke="#2c2c2c" stroke-width="1.5"/></g>
<g fill="#EE6E63" fill-opacity="0.78" stroke="#EE6E63" stroke-opacity="0.95" stroke-width="1">
<circle cx="842.1" cy="49.4" r="2.7"/>
<circle cx="851.3" cy="57.1" r="2.7"/>
<circle cx="893.4" cy="67.1" r="2.7"/>
<circle cx="890.2" cy="70.5" r="2.7"/>
<circle cx="905.2" cy="71.7" r="2.7"/>
<circle cx="906.8" cy="76.1" r="2.7"/>
<circle cx="913.6" cy="73.1" r="2.7"/>
<circle cx="917.6" cy="75.5" r="2.7"/>
<circle cx="896.4" cy="81.1" r="2.7"/>
</g>
<g fill="#6FA23A" fill-opacity="0.78" stroke="#6FA23A" stroke-opacity="0.95" stroke-width="1">
<circle cx="957.1" cy="42.4" r="2.7"/>
<circle cx="967.8" cy="54.1" r="2.7"/>
<circle cx="972.2" cy="54.1" r="2.7"/>
<circle cx="981" cy="53.1" r="2.7"/>
<circle cx="981.4" cy="55.5" r="2.7"/>
</g>
<g fill="#9B7EC3" fill-opacity="0.78" stroke="#9B7EC3" stroke-opacity="0.95" stroke-width="1">
<circle cx="872.7" cy="128" r="2.7"/>
<circle cx="874.5" cy="129" r="2.7"/>
</g>
<g fill="#27B2B6" fill-opacity="0.78" stroke="#27B2B6" stroke-opacity="0.95" stroke-width="1">
<circle cx="940.9" cy="182.6" r="2.7"/>
<circle cx="947.3" cy="186.2" r="2.7"/>
<circle cx="950.3" cy="190.8" r="2.7"/>
</g>
<rect class="fr" x="835.7" y="35.6" width="152.6" height="162"/>
</g>
<g>
<rect x="39.5" y="281.5" width="148.8" height="162.5" fill="#fff"/>
<line class="gm" x1="49.5" y1="283" x2="49.5" y2="442.5"/>
<line class="gM" x1="75.8" y1="283" x2="75.8" y2="442.5"/>
<line class="gm" x1="102.1" y1="283" x2="102.1" y2="442.5"/>
<line class="gM" x1="128.4" y1="283" x2="128.4" y2="442.5"/>
<line class="gm" x1="154.7" y1="283" x2="154.7" y2="442.5"/>
<line class="gM" x1="181" y1="283" x2="181" y2="442.5"/>
<line class="gm" x1="43.5" y1="290" x2="186.3" y2="290"/>
<line class="gM" x1="43.5" y1="311.7" x2="186.3" y2="311.7"/>
<line class="gm" x1="43.5" y1="333.4" x2="186.3" y2="333.4"/>
<line class="gM" x1="43.5" y1="355.1" x2="186.3" y2="355.1"/>
<line class="gm" x1="43.5" y1="376.8" x2="186.3" y2="376.8"/>
<line class="gM" x1="43.5" y1="398.5" x2="186.3" y2="398.5"/>
<line class="gm" x1="43.5" y1="420.2" x2="186.3" y2="420.2"/>
<line class="gM" x1="43.5" y1="441.7" x2="186.3" y2="441.7"/>
<!--ICON6-->
<g fill="#6FA23A" fill-opacity="0.78" stroke="#6FA23A" stroke-opacity="0.95" stroke-width="1">
<circle cx="159.3" cy="288.4" r="3.4"/>
<circle cx="165.7" cy="290" r="3.4"/>
<circle cx="168.3" cy="293" r="3.4"/>
<circle cx="170.3" cy="297.5" r="3.4"/>
<circle cx="174.9" cy="297.1" r="3.4"/>
<circle cx="163.3" cy="301.7" r="3.4"/>
<circle cx="172.7" cy="306.7" r="3.4"/>
<circle cx="181.8" cy="309.7" r="3.4"/>
</g>
<g fill="#EE6E63" fill-opacity="0.78" stroke="#EE6E63" stroke-opacity="0.95" stroke-width="1">
<circle cx="113.2" cy="306.7" r="3.4"/>
<circle cx="109.2" cy="310.7" r="3.4"/>
<circle cx="118.6" cy="315.1" r="3.4"/>
<circle cx="122.6" cy="314.1" r="3.4"/>
<circle cx="126.3" cy="313.1" r="3.4"/>
<circle cx="110.2" cy="318.7" r="3.4"/>
<circle cx="138.3" cy="320.7" r="3.4"/>
<circle cx="103.2" cy="324.1" r="3.4"/>
<circle cx="120.8" cy="324.1" r="3.4"/>
<circle cx="112.8" cy="330.1" r="3.4"/>
</g>
<g fill="#9B7EC3" fill-opacity="0.78" stroke="#9B7EC3" stroke-opacity="0.95" stroke-width="1">
<circle cx="52.5" cy="353" r="3.4"/>
<circle cx="49.5" cy="357" r="3.4"/>
<circle cx="48.1" cy="360" r="3.4"/>
<circle cx="47.1" cy="364" r="3.4"/>
<circle cx="52.5" cy="364.4" r="3.4"/>
<circle cx="50" cy="362.4" r="3.4"/>
</g>
<g fill="#27B2B6" fill-opacity="0.78" stroke="#27B2B6" stroke-opacity="0.95" stroke-width="1">
<circle cx="148.3" cy="421.5" r="3.4"/>
<circle cx="145.7" cy="426.2" r="3.4"/>
<circle cx="149.3" cy="427.2" r="3.4"/>
<circle cx="152.3" cy="429.8" r="3.4"/>
<circle cx="147.3" cy="431.2" r="3.4"/>
<circle cx="149.9" cy="437.8" r="3.4"/>
</g>
<rect class="fr" x="39.5" y="281.5" width="148.8" height="162.5"/>
</g>
<g>
<rect x="241.5" y="282" width="154.5" height="163" fill="#fff"/>
<line class="gm" x1="252.5" y1="283.5" x2="252.5" y2="443.5"/>
<line class="gm" x1="268.6" y1="283.5" x2="268.6" y2="443.5"/>
<line class="gm" x1="284.7" y1="283.5" x2="284.7" y2="443.5"/>
<line class="gm" x1="300.8" y1="283.5" x2="300.8" y2="443.5"/>
<line class="gm" x1="316.9" y1="283.5" x2="316.9" y2="443.5"/>
<line class="gm" x1="333.1" y1="283.5" x2="333.1" y2="443.5"/>
<line class="gm" x1="349.2" y1="283.5" x2="349.2" y2="443.5"/>
<line class="gm" x1="365.3" y1="283.5" x2="365.3" y2="443.5"/>
<line class="gm" x1="381.4" y1="283.5" x2="381.4" y2="443.5"/>
<line class="gm" x1="245.5" y1="300.7" x2="394" y2="300.7"/>
<line class="gt" x1="245.5" y1="320.5" x2="394" y2="320.5"/>
<line class="gm" x1="245.5" y1="340.3" x2="394" y2="340.3"/>
<line class="gt" x1="245.5" y1="360.1" x2="394" y2="360.1"/>
<line class="gm" x1="245.5" y1="379.9" x2="394" y2="379.9"/>
<line class="gt" x1="245.5" y1="399.7" x2="394" y2="399.7"/>
<line class="gm" x1="245.5" y1="419.5" x2="394" y2="419.5"/>
<line class="gt" x1="245.5" y1="439.4" x2="394" y2="439.4"/>
<!--ICON7-->
<g fill="#EE6E63" fill-opacity="0.78" stroke="#EE6E63" stroke-opacity="0.95" stroke-width="1">
<circle cx="314.4" cy="289.4" r="2.4"/>
<circle cx="325.3" cy="294.4" r="2.4"/>
<circle cx="311.2" cy="299.5" r="2.4"/>
<circle cx="321.6" cy="301.5" r="2.4"/>
<circle cx="320.2" cy="305.7" r="2.4"/>
<circle cx="302.8" cy="307.1" r="2.4"/>
<circle cx="323.8" cy="308.7" r="2.4"/>
<circle cx="314.8" cy="310.5" r="2.4"/>
<circle cx="339.7" cy="308.1" r="2.4"/>
<circle cx="343.7" cy="305.5" r="2.4"/>
</g>
<g fill="#6FA23A" fill-opacity="0.78" stroke="#6FA23A" stroke-opacity="0.95" stroke-width="1">
<circle cx="370.7" cy="317.5" r="2.4"/>
<circle cx="373.7" cy="318.5" r="2.4"/>
<circle cx="380.8" cy="313.7" r="2.4"/>
<circle cx="383.4" cy="316.7" r="2.4"/>
<circle cx="384" cy="318.7" r="2.4"/>
<circle cx="382.4" cy="325.1" r="2.4"/>
<circle cx="389" cy="330.1" r="2.4"/>
</g>
<g fill="#9B7EC3" fill-opacity="0.78" stroke="#9B7EC3" stroke-opacity="0.95" stroke-width="1">
<circle cx="248.7" cy="378.5" r="2.4"/>
<circle cx="251.5" cy="376.1" r="2.4"/>
<circle cx="254.1" cy="375.5" r="2.4"/>
<circle cx="253.1" cy="373.6" r="2.4"/>
<circle cx="257.3" cy="394.7" r="2.4"/>
</g>
<g fill="#27B2B6" fill-opacity="0.78" stroke="#27B2B6" stroke-opacity="0.95" stroke-width="1">
<circle cx="353.3" cy="428.2" r="2.4"/>
<circle cx="351.9" cy="431.2" r="2.4"/>
<circle cx="347.3" cy="433.2" r="2.4"/>
<circle cx="350.7" cy="434.2" r="2.4"/>
<circle cx="352.3" cy="435.8" r="2.4"/>
<circle cx="354.3" cy="437.8" r="2.4"/>
</g>
<rect class="fr" style="stroke:#383838;stroke-width:1.15" x="241.5" y="282" width="154.5" height="163"/>
</g>
<g>
<rect x="439.6" y="282.4" width="155" height="165.1" fill="#fff"/>
<line class="gm" x1="442.2" y1="283.9" x2="442.2" y2="446"/>
<line class="gM" x1="458" y1="283.9" x2="458" y2="446"/>
<line class="gm" x1="474" y1="283.9" x2="474" y2="446"/>
<line class="gM" x1="489.9" y1="283.9" x2="489.9" y2="446"/>
<line class="gm" x1="505.8" y1="283.9" x2="505.8" y2="446"/>
<line class="gM" x1="521.8" y1="283.9" x2="521.8" y2="446"/>
<line class="gm" x1="537.9" y1="283.9" x2="537.9" y2="446"/>
<line class="gM" x1="553.8" y1="283.9" x2="553.8" y2="446"/>
<line class="gm" x1="569.9" y1="283.9" x2="569.9" y2="446"/>
<line class="gM" x1="586" y1="283.9" x2="586" y2="446"/>
<line class="gm" x1="443.6" y1="297.5" x2="592.6" y2="297.5"/>
<line class="gM" x1="443.6" y1="315.7" x2="592.6" y2="315.7"/>
<line class="gm" x1="443.6" y1="333.9" x2="592.6" y2="333.9"/>
<line class="gM" x1="443.6" y1="352.1" x2="592.6" y2="352.1"/>
<line class="gm" x1="443.6" y1="370.3" x2="592.6" y2="370.3"/>
<line class="gM" x1="443.6" y1="388.5" x2="592.6" y2="388.5"/>
<line class="gm" x1="443.6" y1="406.8" x2="592.6" y2="406.8"/>
<line class="gM" x1="443.6" y1="425.3" x2="592.6" y2="425.3"/>
<line class="gm" x1="443.6" y1="443.5" x2="592.6" y2="443.5"/>
<!--ICON8-->
<g fill="#EE6E63" fill-opacity="0.78" stroke="#EE6E63" stroke-opacity="0.95" stroke-width="1">
<circle cx="517.2" cy="289.4" r="2.8"/>
<circle cx="522.4" cy="293.6" r="2.8"/>
<circle cx="509.2" cy="313.5" r="2.8"/>
<circle cx="481.8" cy="345.8" r="2.8"/>
<circle cx="487.6" cy="345.8" r="2.8"/>
<circle cx="491.2" cy="346.2" r="2.8"/>
<circle cx="477" cy="357.4" r="2.8"/>
<circle cx="463.7" cy="377.5" r="2.8"/>
<circle cx="458.7" cy="390.1" r="2.8"/>
<circle cx="448.7" cy="403.1" r="2.8"/>
</g>
<g fill="#6FA23A" fill-opacity="0.78" stroke="#6FA23A" stroke-opacity="0.95" stroke-width="1">
<circle cx="472.1" cy="391.7" r="2.8"/>
<circle cx="462.5" cy="404.1" r="2.8"/>
<circle cx="456.7" cy="408.1" r="2.8"/>
<circle cx="460.7" cy="408.7" r="2.8"/>
<circle cx="454.5" cy="416.1" r="2.8"/>
<circle cx="452.7" cy="418.7" r="2.8"/>
</g>
<g fill="#9B7EC3" fill-opacity="0.78" stroke="#9B7EC3" stroke-opacity="0.95" stroke-width="1">
<circle cx="450.1" cy="428.2" r="2.8"/>
<circle cx="446" cy="429.7" r="2.8"/>
<circle cx="447.3" cy="435.8" r="2.8"/>
</g>
<g fill="#27B2B6" fill-opacity="0.78" stroke="#27B2B6" stroke-opacity="0.95" stroke-width="1">
<circle cx="561.7" cy="431.1" r="2.8"/>
<circle cx="573.8" cy="440.8" r="2.8"/>
<circle cx="585.9" cy="432.9" r="2.8"/>
<circle cx="588.8" cy="433" r="2.8"/>
</g>
<rect class="fr" x="439.6" y="282.4" width="155" height="165.1"/>
</g>
<g>
<rect x="639.5" y="280.5" width="155.9" height="165.8" fill="#fff"/>
<line class="gm" x1="653.1" y1="282" x2="653.1" y2="444.8"/>
<line class="gM" x1="677.2" y1="282" x2="677.2" y2="444.8"/>
<line class="gm" x1="701.2" y1="282" x2="701.2" y2="444.8"/>
<line class="gM" x1="725.3" y1="282" x2="725.3" y2="444.8"/>
<line class="gm" x1="749.3" y1="282" x2="749.3" y2="444.8"/>
<line class="gM" x1="773.3" y1="282" x2="773.3" y2="444.8"/>
<line class="gm" x1="643.5" y1="301.1" x2="793.4" y2="301.1"/>
<line class="gM" x1="643.5" y1="320.1" x2="793.4" y2="320.1"/>
<line class="gm" x1="643.5" y1="339.1" x2="793.4" y2="339.1"/>
<line class="gM" x1="643.5" y1="358" x2="793.4" y2="358"/>
<line class="gm" x1="643.5" y1="376.9" x2="793.4" y2="376.9"/>
<line class="gM" x1="643.5" y1="395.8" x2="793.4" y2="395.8"/>
<line class="gm" x1="643.5" y1="414.6" x2="793.4" y2="414.6"/>
<line class="gM" x1="643.5" y1="433.4" x2="793.4" y2="433.4"/>
<!--ICON9-->
<g fill="#9B7EC3" fill-opacity="0.78" stroke="#9B7EC3" stroke-opacity="0.95" stroke-width="1">
<circle cx="646.1" cy="288" r="2.8"/>
<circle cx="657.1" cy="317.1" r="2.8"/>
<circle cx="663.1" cy="326.7" r="2.8"/>
</g>
<g fill="#27B2B6" fill-opacity="0.78" stroke="#27B2B6" stroke-opacity="0.95" stroke-width="1">
<circle cx="788.4" cy="307.5" r="2.8"/>
<circle cx="784.4" cy="315.7" r="2.8"/>
<circle cx="775.8" cy="326.1" r="2.8"/>
</g>
<g fill="#EE6E63" fill-opacity="0.78" stroke="#EE6E63" stroke-opacity="0.95" stroke-width="1">
<circle cx="735.3" cy="427.3" r="2.8"/>
<circle cx="743" cy="428.1" r="2.8"/>
<circle cx="745.8" cy="427.5" r="2.8"/>
<circle cx="749.5" cy="428.8" r="2.8"/>
<circle cx="711" cy="434.5" r="2.8"/>
<circle cx="724" cy="436.1" r="2.8"/>
<circle cx="729.2" cy="436.5" r="2.8"/>
<circle cx="716.1" cy="438" r="2.8"/>
<circle cx="708.6" cy="438.7" r="2.8"/>
</g>
<g fill="#6FA23A" fill-opacity="0.78" stroke="#6FA23A" stroke-opacity="0.95" stroke-width="1">
<circle cx="723" cy="421.5" r="2.8"/>
<circle cx="715.8" cy="425.2" r="2.8"/>
<circle cx="714.8" cy="427.6" r="2.8"/>
<circle cx="714.4" cy="430.4" r="2.8"/>
<circle cx="716.4" cy="423.6" r="2.8"/>
<circle cx="715.4" cy="426.4" r="2.8"/>
<circle cx="715" cy="429" r="2.8"/>
</g>
<rect class="fr" x="639.5" y="280.5" width="155.9" height="165.8"/>
</g>
<g>
<rect x="833.5" y="280.5" width="156" height="164.8" fill="#fff"/>
<line class="gM" x1="836.5" y1="282" x2="836.5" y2="443.8"/>
<line class="gm" x1="862.1" y1="282" x2="862.1" y2="443.8"/>
<line class="gM" x1="887.7" y1="282" x2="887.7" y2="443.8"/>
<line class="gm" x1="913.3" y1="282" x2="913.3" y2="443.8"/>
<line class="gM" x1="938.9" y1="282" x2="938.9" y2="443.8"/>
<line class="gm" x1="964.6" y1="282" x2="964.6" y2="443.8"/>
<line class="gM" x1="837.5" y1="293.6" x2="987.5" y2="293.6"/>
<line class="gm" x1="837.5" y1="316.6" x2="987.5" y2="316.6"/>
<line class="gM" x1="837.5" y1="339.7" x2="987.5" y2="339.7"/>
<line class="gm" x1="837.5" y1="362.8" x2="987.5" y2="362.8"/>
<line class="gM" x1="837.5" y1="385.9" x2="987.5" y2="385.9"/>
<line class="gm" x1="837.5" y1="409" x2="987.5" y2="409"/>
<line class="gM" x1="837.5" y1="432.2" x2="987.5" y2="432.2"/>
<!--ICON10-->
<g fill="#EE6E63" fill-opacity="0.78" stroke="#EE6E63" stroke-opacity="0.95" stroke-width="1">
<circle cx="920.2" cy="287.6" r="2.7"/>
<circle cx="925.7" cy="288" r="2.7"/>
<circle cx="878.8" cy="340.1" r="2.7"/>
<circle cx="891.8" cy="344.7" r="2.7"/>
<circle cx="885.2" cy="346.6" r="2.7"/>
<circle cx="881.6" cy="349.8" r="2.7"/>
<circle cx="868.5" cy="362.8" r="2.7"/>
<circle cx="878.8" cy="362.8" r="2.7"/>
<circle cx="844.5" cy="397.5" r="2.7"/>
<circle cx="844.3" cy="399.1" r="2.7"/>
</g>
<g fill="#6FA23A" fill-opacity="0.78" stroke="#6FA23A" stroke-opacity="0.95" stroke-width="1">
<circle cx="879.6" cy="388.7" r="2.7"/>
<circle cx="879.2" cy="388.3" r="2.7"/>
<circle cx="867.5" cy="397.1" r="2.7"/>
<circle cx="863.7" cy="398.1" r="2.7"/>
<circle cx="864.5" cy="400.5" r="2.7"/>
</g>
<g fill="#9B7EC3" fill-opacity="0.78" stroke="#9B7EC3" stroke-opacity="0.95" stroke-width="1">
<circle cx="840.1" cy="429.6" r="2.7"/>
<circle cx="841.7" cy="432.2" r="2.7"/>
<circle cx="842.7" cy="433.2" r="2.7"/>
</g>
<g fill="#27B2B6" fill-opacity="0.78" stroke="#27B2B6" stroke-opacity="0.95" stroke-width="1">
<circle cx="946.8" cy="431.9" r="2.7"/>
<circle cx="960" cy="432.7" r="2.7"/>
<circle cx="963.6" cy="438.3" r="2.7"/>
<circle cx="982.8" cy="430" r="2.7"/>
</g>
<rect class="fr" x="833.5" y="280.5" width="156" height="164.8"/>
</g>
<text class="ttl" x="31.0" y="26.4" textLength="293.5" lengthAdjust="spacingAndGlyphs">Tissue expression similarities</text>
<text class="ttl" x="28.4" y="270.2" textLength="545.8" lengthAdjust="spacingAndGlyphs">Expression patterns of genes in brain-related pathways</text>
<text class="ax" x="38.1" y="213" textLength="146.9" lengthAdjust="spacingAndGlyphs">PC1 (40.74% variance)</text>
<text class="ax" x="234.8" y="213" textLength="147.6" lengthAdjust="spacingAndGlyphs">PC1 (40.55% variance)</text>
<text class="ax" x="432.8" y="213" textLength="146.4" lengthAdjust="spacingAndGlyphs">PC1 (50.39% variance)</text>
<text class="ax" x="641.6" y="213" textLength="146.8" lengthAdjust="spacingAndGlyphs">PC1 (44.17% variance)</text>
<text class="ax" x="847.6" y="213" textLength="139.6" lengthAdjust="spacingAndGlyphs">PC1 (40.2% variance)</text>
<text class="ax" x="37.8" y="462.5" textLength="149.9" lengthAdjust="spacingAndGlyphs">PC1 (32.93% variance)</text>
<text class="ax" x="239.6" y="462.5" textLength="149.8" lengthAdjust="spacingAndGlyphs">PC1 (32.56% variance)</text>
<text class="ax" x="441.8" y="464" textLength="148.6" lengthAdjust="spacingAndGlyphs">PC1 (33.45% variance)</text>
<text class="ax" x="642.8" y="463.7" textLength="148.6" lengthAdjust="spacingAndGlyphs">PC1 (30.23% variance)</text>
<text class="ax" x="845.3" y="464" textLength="141.1" lengthAdjust="spacingAndGlyphs">PC1 (62.7% variance)</text>
<text class="ax" transform="translate(23.8 184.8) rotate(-90)" x="0" y="0" textLength="141.2" lengthAdjust="spacingAndGlyphs">PC2 (25.14% variance</text>
<text class="ax" transform="translate(221.6 187.8) rotate(-90)" x="0" y="0" textLength="143.6" lengthAdjust="spacingAndGlyphs">PC2 (30.09% variance)</text>
<text class="ax" transform="translate(419.6 188.6) rotate(-90)" x="0" y="0" textLength="144.4" lengthAdjust="spacingAndGlyphs">PC2 (16.86% variance)</text>
<text class="ax" transform="translate(625.8 187.8) rotate(-90)" x="0" y="0" textLength="143.6" lengthAdjust="spacingAndGlyphs">PC2 (14.88% variance)</text>
<text class="ax" transform="translate(821.3 189.9) rotate(-90)" x="0" y="0" textLength="139.7" lengthAdjust="spacingAndGlyphs">PC2 (26.43% variance)</text>
<text class="ax" transform="translate(28.4 440.8) rotate(-90)" x="0" y="0" textLength="146.6" lengthAdjust="spacingAndGlyphs">PC2 (21.81% variance)</text>
<text class="ax" transform="translate(231 439.9) rotate(-90)" x="0" y="0" textLength="146.2" lengthAdjust="spacingAndGlyphs">PC2 (24.88% variance)</text>
<text class="ax" transform="translate(434.4 440.8) rotate(-90)" x="0" y="0" textLength="145.8" lengthAdjust="spacingAndGlyphs">PC2 (25.41% variance)</text>
<text class="ax" transform="translate(634 439.9) rotate(-90)" x="0" y="0" textLength="144.9" lengthAdjust="spacingAndGlyphs">PC2 (27.28% variance)</text>
<text class="ax" transform="translate(825.8 439.9) rotate(-90)" x="0" y="0" textLength="144.9" lengthAdjust="spacingAndGlyphs">PC2 (21.22% variance)</text>
<circle cx="221.6" cy="228.1" r="6.3" fill="#F18D86"/>
<text class="lg" x="232.1" y="232.8" textLength="82.8" lengthAdjust="spacingAndGlyphs">Homo sapiens</text>
<circle cx="356.9" cy="228.1" r="6.3" fill="#8FB559"/>
<text class="lg" x="368" y="232.8" textLength="90.6" lengthAdjust="spacingAndGlyphs">Macaca mulatta</text>
<circle cx="489.2" cy="228.1" r="6.3" fill="#57C4C8"/>
<text class="lg" x="498" y="232.8" textLength="83.2" lengthAdjust="spacingAndGlyphs">Mus musculus</text>
<circle cx="615.2" cy="228.1" r="6.3" fill="#B39AD4"/>
<text class="lg" x="623.5" y="232.8" textLength="155.1" lengthAdjust="spacingAndGlyphs">Tupaia belangeri chinensis</text>
<text class="an" fill="#32378C" x="120.8" y="365" textLength="62.6" lengthAdjust="spacingAndGlyphs">Alzheimer</text>
<text class="an" fill="#32378C" x="120.8" y="382" textLength="48.5" lengthAdjust="spacingAndGlyphs">disease</text>
<text class="an" fill="#26246A" x="323.8" y="363" textLength="62.5" lengthAdjust="spacingAndGlyphs">Parkinson</text>
<text class="an" fill="#26246A" x="323.3" y="380.5" textLength="48.7" lengthAdjust="spacingAndGlyphs">disease</text>
<text class="an" fill="#26246A" x="492.6" y="363" textLength="76" lengthAdjust="spacingAndGlyphs">Neuroactive</text>
<text class="an" fill="#26246A" x="492.6" y="380.5" textLength="99.4" lengthAdjust="spacingAndGlyphs">ligand−receptor</text>
<text class="an" fill="#26246A" x="492.6" y="398" textLength="66.4" lengthAdjust="spacingAndGlyphs">interaction</text>
<text class="an" fill="#26246A" x="692.2" y="357" textLength="77.1" lengthAdjust="spacingAndGlyphs">Pathways of</text>
<text class="an" fill="#26246A" x="668.1" y="374" textLength="120.3" lengthAdjust="spacingAndGlyphs">neurodegeneration</text>
<text class="an" fill="#26246A" x="668.1" y="391" textLength="121.3" lengthAdjust="spacingAndGlyphs">− multiple diseases</text>
<text class="an" fill="#26246A" x="899" y="365" textLength="87.4" lengthAdjust="spacingAndGlyphs">Axon guidance</text>
</svg></body></html>
